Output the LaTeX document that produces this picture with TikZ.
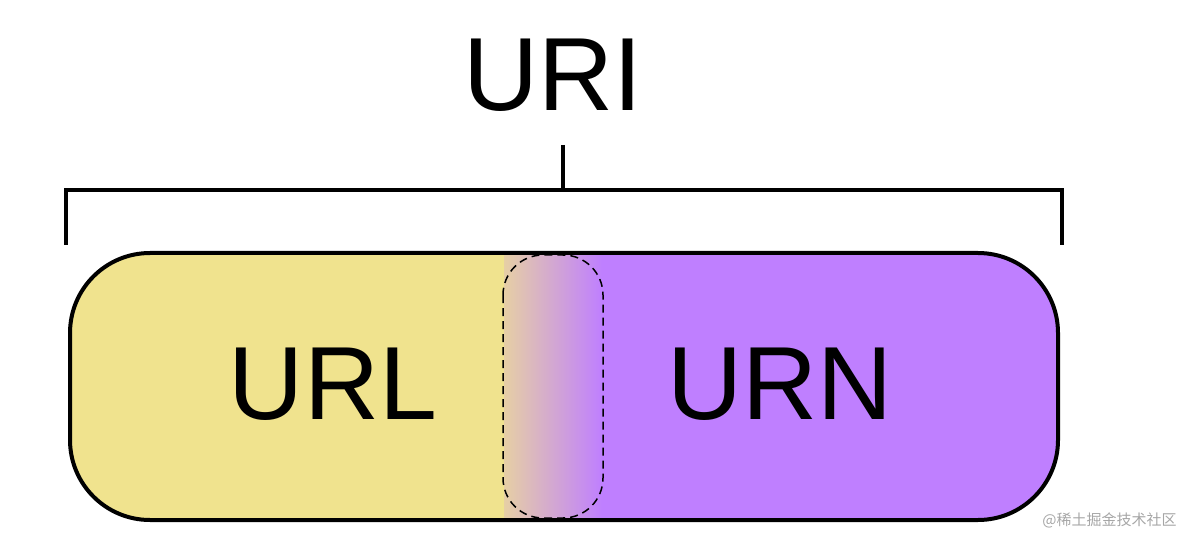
\documentclass[tikz,border=0pt]{standalone}
\usepackage{fontspec}
\setmainfont{Liberation Sans}
\newfontfamily\cjk{Noto Sans CJK SC}
\definecolor{yel}{HTML}{F0E38E}
\definecolor{pur}{HTML}{BF7FFF}
\begin{document}
\begin{tikzpicture}[x=1pt,y=-1pt,line width=4pt,
  big/.style={font=\fontsize{104}{104}\selectfont,inner sep=0pt}]
\useasboundingbox (0,0) rectangle (1196,545);
\begin{scope}
\clip[rounded corners=80pt] (70,253) rectangle (1058,520);
\fill[yel] (70,253) rectangle (505,520);
\fill[pur] (600,253) rectangle (1058,520);
\shade[left color=yel!80!pur,right color=pur] (504,253) rectangle (602,520);
\end{scope}
\draw[rounded corners=80pt] (70,253) rectangle (1058,520);
\draw[line width=1.5pt,dash pattern=on 8pt off 5pt,rounded corners=40pt] (503,255) rectangle (603,518);
\node[big] (uri) at (553,75) {URI};
\node[big] (url) at (333,384) {URL};
\node[big] (urn) at (780,384) {URN};
\coordinate (st) at (563,145);
\coordinate (sb) at (563,190);
\draw (st) -- (sb);
\draw (66,245) -- (66,190) -- (1062,190) -- (1062,245);
\node[font=\cjk\fontsize{15}{15}\selectfont,text=gray!70,anchor=east] (wm) at (1182,520) {@稀土掘金技术社区};
\end{tikzpicture}
\end{document}
